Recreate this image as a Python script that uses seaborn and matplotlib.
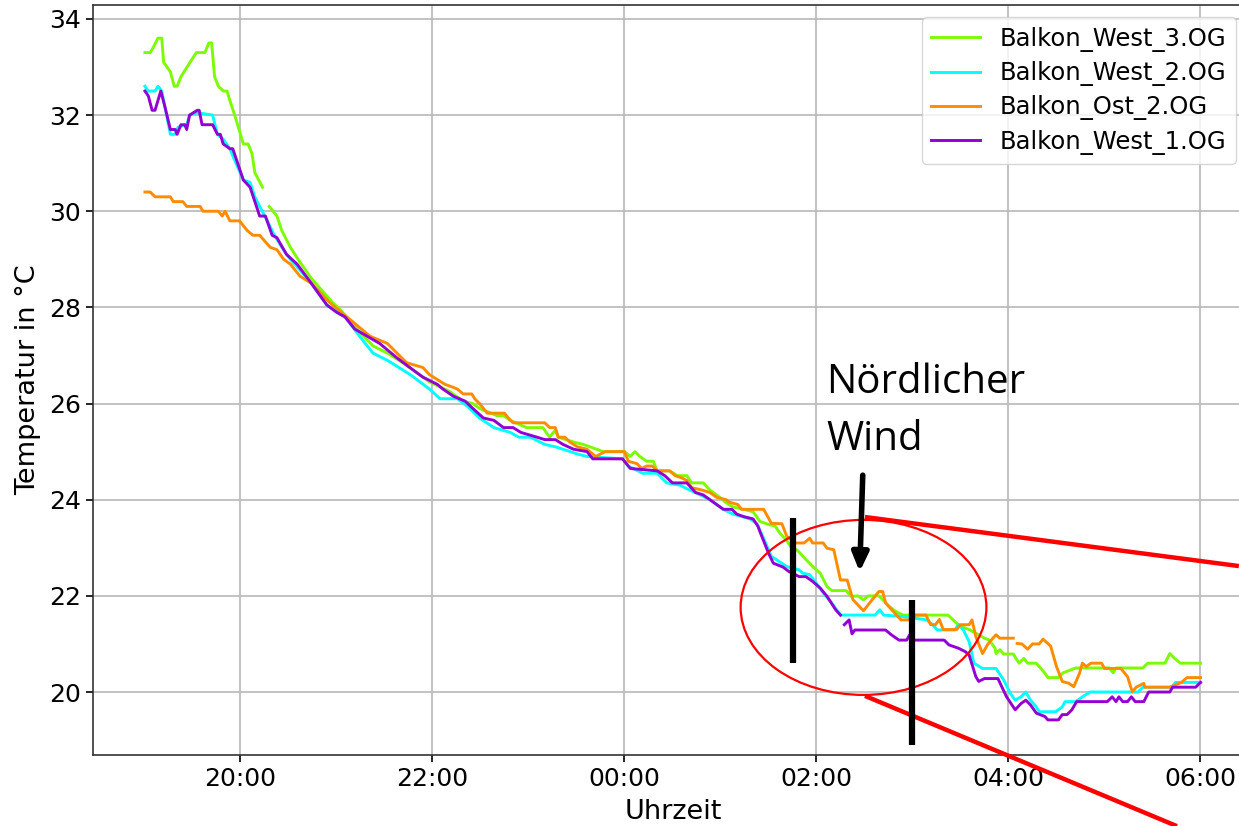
import numpy as np
import pandas as pd
import matplotlib
matplotlib.use("Agg")
import matplotlib.pyplot as plt
import matplotlib.dates as mdates
from matplotlib.patches import Ellipse
import seaborn as sns

# ---------------- data (hours after midnight of the evening; >24 = next morning; None = gap) -------
sensors = ["Balkon_West_3.OG", "Balkon_West_2.OG", "Balkon_Ost_2.OG", "Balkon_West_1.OG"]
colors = ["lawngreen", "cyan", "darkorange", "darkviolet"]

t_west3 = [19.005, 19.06, 19.09, 19.14, 19.18, 19.20, 19.27, 19.31, 19.34, 19.38,
           19.54, 19.63, 19.67, 19.70, 19.73, 19.77, 19.82, 19.86, 19.89, 19.94,
           20.03, 20.08, 20.12, 20.15, 20.23, None,
           20.30, 20.38, 20.43, 20.52, 20.60, 20.74, 20.85, 20.96, 21.04, 21.19,
           21.38, 21.53, 21.69, 21.97, 22.18, 22.32, 22.42, 22.49, 22.67, 22.74,
           22.81, 22.98, 23.15, 23.22, 23.28, 23.31, 23.47, 23.57, 23.71, 23.78,
           24.00, 24.06, 24.11, 24.16, 24.23, 24.30, 24.34, 24.47, 24.55, 24.65,
           24.70, 24.82, 24.89, 24.96, 25.05, 25.13, 25.24, 25.34, 25.41, 25.48,
           25.57, 25.62, 25.69, 25.74, 25.80, 25.86, 25.96, 26.04, 26.11, 26.16,
           26.31, 26.36, 26.43, 26.49, 26.54, 26.65, 26.76, 26.83, 26.90, 27.37,
           27.44, 27.48, 27.55, 27.60, 27.69, 27.75, 27.80, 27.86, 27.87, 27.91,
           27.95, 28.05, 28.11, 28.16, 28.20, 28.29, 28.38, 28.41, 28.52, 28.57,
           28.70, 29.05, 29.09, 29.12, 29.40, 29.45, 29.63, 29.68, 29.73, 29.79,
           30.00]
v_west3 = [33.3, 33.3, 33.4, 33.6, 33.6, 33.1, 32.9, 32.6, 32.6, 32.8,
           33.3, 33.3, 33.5, 33.5, 32.8, 32.6, 32.5, 32.5, 32.3, 32.0,
           31.4, 31.4, 31.2, 30.8, 30.5, None,
           30.1, 29.9, 29.6, 29.25, 29.0, 28.6, 28.35, 28.1, 27.95, 27.6,
           27.2, 27.05, 26.85, 26.45, 26.25, 26.05, 26.0, 25.9, 25.75, 25.75,
           25.65, 25.5, 25.5, 25.3, 25.45, 25.3, 25.2, 25.15, 25.05, 25.0,
           25.0, 24.9, 25.0, 24.9, 24.8, 24.8, 24.6, 24.6, 24.5, 24.5,
           24.35, 24.35, 24.2, 24.1, 23.95, 23.85, 23.8, 23.75, 23.55, 23.5,
           23.45, 23.3, 23.15, 23.0, 22.95, 22.82, 22.61, 22.47, 22.19, 22.11,
           22.11, 21.99, 22.0, 21.92, 22.0, 22.0, 21.78, 21.67, 21.6, 21.6,
           21.47, 21.4, 21.33, 21.29, 21.19, 21.12, 21.08, 20.91, 20.8, 20.88,
           20.79, 20.79, 20.6, 20.7, 20.6, 20.6, 20.39, 20.3, 20.3, 20.4,
           20.5, 20.5, 20.4, 20.5, 20.5, 20.6, 20.6, 20.8, 20.7, 20.6,
           20.6]

t_west2 = [19.005, 19.04, 19.11, 19.14, 19.18, 19.27, 19.32, 19.35, 19.44, 19.47,
           19.55, 19.71, 19.76, 19.82, 19.89, 19.92, 20.03, 20.10, 20.15, 20.20,
           20.28, 20.34, 20.43, 20.52, 20.72, 20.90, 21.09, 21.28, 21.38, 21.53,
           21.77, 21.97, 22.08, 22.26, 22.36, 22.49, 22.64, 22.81, 22.90, 23.02,
           23.12, 23.17, 23.28, 23.36, 23.51, 23.61, 23.98, 24.04, 24.19, 24.34,
           24.44, 24.58, 24.68, 24.79, 24.89, 25.03, 25.13, 25.31, 25.38, 25.44,
           25.53, 25.69, 25.82, 25.86, 25.93, 26.00, 26.07, 26.16, 26.25, 26.61,
           26.66, 26.70, 26.90, 27.15, 27.21, 27.26, 27.44, 27.48, 27.53, 27.59,
           27.64, 27.73, 27.87, 27.95, 28.02, 28.07, 28.13, 28.18, 28.23, 28.29,
           28.32, 28.49, 28.56, 28.59, 28.70, 28.77, 28.85, 29.35, 29.40, 29.70,
           29.74, 30.00]
v_west2 = [32.6, 32.5, 32.5, 32.6, 32.5, 31.6, 31.6, 31.75, 31.8, 32.0,
           32.05, 32.0, 31.6, 31.5, 31.3, 31.15, 30.65, 30.6, 30.3, 30.1,
           29.8, 29.55, 29.25, 29.0, 28.55, 28.05, 27.8, 27.3, 27.05, 26.9,
           26.6, 26.3, 26.1, 26.1, 25.95, 25.7, 25.5, 25.4, 25.3, 25.3,
           25.2, 25.15, 25.1, 25.05, 24.95, 24.9, 24.85, 24.7, 24.55, 24.55,
           24.35, 24.3, 24.2, 24.1, 24.0, 23.8, 23.7, 23.6, 23.5, 23.24,
           22.82, 22.61, 22.54, 22.47, 22.44, 22.26, 22.06, 21.85, 21.6, 21.6,
           21.71, 21.6, 21.57, 21.5, 21.4, 21.29, 21.29, 21.4, 21.29, 21.05,
           20.6, 20.49, 20.49, 20.25, 19.97, 19.83, 19.9, 20.0, 19.83, 19.69,
           19.59, 19.59, 19.69, 19.8, 19.8, 19.9, 20.0, 20.0, 20.1, 20.1,
           20.2, 20.2]

t_ost2 = [19.005, 19.06, 19.11, 19.27, 19.30, 19.40, 19.44, 19.58, 19.61, 19.77,
          19.81, 19.84, 19.89, 19.99, 20.07, 20.13, 20.20, 20.31, 20.38, 20.45,
          20.52, 20.62, 20.74, 20.93, 21.14, 21.35, 21.53, 21.73, 21.90, 21.97,
          22.05, 22.13, 22.20, 22.26, 22.32, 22.41, 22.44, 22.49, 22.57, 22.75,
          22.79, 22.84, 23.17, 23.22, 23.28, 23.31, 23.38, 23.43, 23.51, 23.61,
          23.70, 23.75, 23.80, 24.00, 24.04, 24.13, 24.18, 24.23, 24.29, 24.34,
          24.47, 24.53, 24.60, 24.65, 24.70, 24.81, 24.89, 24.96, 25.06, 25.09,
          25.18, 25.22, 25.45, 25.53, 25.64, 25.69, 25.78, 25.87, 25.93, 25.96,
          26.07, 26.11, 26.18, 26.25, 26.32, 26.38, 26.49, 26.58, 26.65, 26.69,
          26.72, 26.78, 26.88, 26.99, 27.03, 27.14, 27.19, 27.24, 27.28, 27.32,
          27.46, 27.50, 27.59, 27.62, 27.66, 27.73, 27.78, 27.82, 27.87, 27.91,
          28.05, None,
          28.09, 28.14, 28.20, 28.25, 28.32, 28.36, 28.41, 28.44, 28.50, 28.56,
          28.63, 28.68, 28.74, 28.77, 28.81, 28.86, 28.97, 29.00, 29.17, 29.24,
          29.29, 29.33, 29.41, 29.42, 29.68, 29.80, 29.86, 30.00]
v_ost2 = [30.4, 30.4, 30.3, 30.3, 30.2, 30.2, 30.1, 30.1, 30.0, 30.0,
          29.9, 30.0, 29.8, 29.8, 29.6, 29.5, 29.5, 29.25, 29.2, 29.0,
          28.9, 28.65, 28.5, 28.1, 27.75, 27.4, 27.25, 26.85, 26.75, 26.6,
          26.5, 26.4, 26.35, 26.3, 26.2, 26.2, 26.1, 26.0, 25.8, 25.8,
          25.7, 25.6, 25.6, 25.5, 25.5, 25.3, 25.3, 25.2, 25.1, 25.05,
          24.9, 24.95, 25.0, 25.0, 24.8, 24.75, 24.65, 24.7, 24.7, 24.6,
          24.6, 24.5, 24.45, 24.4, 24.25, 24.2, 24.15, 24.05, 24.0, 23.95,
          23.9, 23.8, 23.8, 23.51, 23.5, 23.24, 23.1, 23.1, 23.2, 23.1,
          23.1, 22.99, 22.96, 22.33, 22.33, 21.92, 21.69, 21.92, 22.09, 22.09,
          21.85, 21.72, 21.5, 21.5, 21.6, 21.6, 21.4, 21.4, 21.51, 21.3,
          21.3, 21.4, 21.4, 21.5, 21.15, 20.8, 20.98, 21.08, 21.19, 21.12,
          21.12, None,
          21.01, 21.0, 20.89, 21.0, 21.0, 21.1, 21.01, 20.95, 20.53, 20.22,
          20.18, 20.11, 20.39, 20.6, 20.53, 20.6, 20.6, 20.49, 20.49, 20.32,
          20.0, 20.1, 20.18, 20.1, 20.1, 20.2, 20.3, 20.3]

t_west1 = [19.005, 19.04, 19.08, 19.11, 19.17, 19.21, 19.27, 19.32, 19.34, 19.38,
           19.42, 19.44, 19.47, 19.55, 19.57, 19.60, 19.71, 19.76, 19.79, 19.82,
           19.89, 19.92, 20.03, 20.10, 20.20, 20.26, 20.33, 20.38, 20.48, 20.59,
           20.72, 20.90, 21.00, 21.09, 21.19, 21.32, 21.45, 21.63, 21.73, 21.90,
           22.05, 22.11, 22.22, 22.34, 22.42, 22.53, 22.64, 22.74, 22.84, 22.92,
           23.09, 23.17, 23.28, 23.36, 23.47, 23.61, 23.67, 23.98, 24.06, 24.34,
           24.42, 24.50, 24.65, 24.74, 24.82, 24.89, 24.96, 25.03, 25.12, 25.17,
           25.24, 25.34, 25.39, 25.41, 25.50, 25.55, 25.65, 25.71, 25.82, 25.89,
           25.96, 26.04, 26.11, 26.20, 26.25, None,
           26.29, 26.34, 26.37, 26.40, 26.72, 26.78, 26.86, 26.94, 26.97, 27.02,
           27.33, 27.38, 27.48, 27.55, 27.59, 27.66, 27.69, 27.75, 27.89, 27.98,
           28.07, 28.13, 28.18, 28.23, 28.29, 28.38, 28.41, 28.52, 28.56, 28.61,
           28.66, 28.71, 29.03, 29.08, 29.12, 29.15, 29.19, 29.24, 29.28, 29.32,
           29.41, 29.46, 29.68, 29.71, 29.95, 30.00]
v_west1 = [32.5, 32.4, 32.1, 32.1, 32.5, 32.2, 31.7, 31.7, 31.6, 31.8,
           31.8, 31.7, 32.0, 32.1, 32.1, 31.8, 31.8, 31.6, 31.6, 31.4,
           31.3, 31.3, 30.65, 30.5, 29.9, 29.9, 29.5, 29.45, 29.1, 28.9,
           28.55, 28.05, 27.9, 27.8, 27.55, 27.4, 27.25, 26.95, 26.8, 26.55,
           26.4, 26.3, 26.15, 26.05, 25.9, 25.7, 25.65, 25.5, 25.5, 25.4,
           25.3, 25.25, 25.25, 25.15, 25.05, 25.0, 24.85, 24.85, 24.65, 24.6,
           24.5, 24.35, 24.35, 24.15, 24.1, 24.0, 23.9, 23.8, 23.8, 23.7,
           23.65, 23.6, 23.45, 23.34, 22.89, 22.68, 22.6, 22.51, 22.4, 22.4,
           22.3, 22.16, 21.99, 21.71, 21.6, None,
           21.4, 21.5, 21.21, 21.29, 21.29, 21.19, 21.08, 21.08, 21.19, 21.08,
           21.08, 20.98, 20.91, 20.84, 20.77, 20.32, 20.22, 20.28, 20.28, 19.9,
           19.63, 19.76, 19.83, 19.73, 19.56, 19.49, 19.42, 19.42, 19.53, 19.53,
           19.63, 19.8, 19.8, 19.9, 19.8, 19.9, 19.8, 19.8, 19.9, 19.8,
           19.8, 20.0, 20.0, 20.1, 20.1, 20.2]

series_t = [t_west3, t_west2, t_ost2, t_west1]
series_v = [v_west3, v_west2, v_ost2, v_west1]

# ---------------- tidy frame, splitting at gaps ----------------
base = pd.Timestamp("2023-07-01")
rows = []
for name, ts, vs in zip(sensors, series_t, series_v):
    assert len(ts) == len(vs), name
    seg = 0
    for t, v in zip(ts, vs):
        if t is None or v is None:
            seg += 1
            continue
        rows.append((name, seg, base + pd.Timedelta(hours=t), v))
df = pd.DataFrame(rows, columns=["sensor", "seg", "time", "temp"])


def h2d(h):
    return mdates.date2num(base + pd.Timedelta(hours=h))


# ---------------- figure ----------------
plt.rcParams["font.family"] = ["DejaVu Sans"]
plt.rcParams["font.size"] = 17

W, H = 1239, 826
fig = plt.figure(figsize=(W / 100, H / 100), dpi=100)
ax = fig.add_axes([93 / W, 71 / H, 1160 / W, 750 / H])

sns.lineplot(data=df, x="time", y="temp", hue="sensor", hue_order=sensors,
             palette=dict(zip(sensors, colors)), units="seg", estimator=None,
             linewidth=2.1, ax=ax)

ax.set_xlim(h2d(18.464), h2d(30.547))
ax.set_ylim(18.69, 34.29)
ax.set_yticks(np.arange(20, 35, 2))
ax.xaxis.set_major_locator(mdates.HourLocator(byhour=range(0, 24, 2)))
ax.xaxis.set_major_formatter(mdates.DateFormatter("%H:%M"))
ax.grid(True, color="#b8b8b8", linewidth=1.2)
ax.set_axisbelow(True)
for sp in ax.spines.values():
    sp.set_linewidth(1.2)
    sp.set_color("#333333")
ax.tick_params(labelsize=18, length=5, width=1.2)
ax.set_xlabel("Uhrzeit", fontsize=19.5, labelpad=6)
ax.set_ylabel("Temperatur in °C", fontsize=19.5, labelpad=6)

sns.move_legend(ax, "upper right", title=None, fontsize=17.5, frameon=True,
                bbox_to_anchor=(0.9957, 1.0), borderaxespad=0.5, labelspacing=0.38)

# ---------------- annotations ----------------
ell = Ellipse((h2d(26.49), 21.76), width=2.56 / 24, height=3.64,
              fill=False, edgecolor="red", linewidth=1.6, clip_on=False, zorder=5)
ax.add_patch(ell)
ax.plot([h2d(26.505), h2d(30.40)], [23.64, 22.62], color="red", lw=3.2,
        clip_on=False, zorder=5, solid_capstyle="butt")
ax.plot([h2d(26.505), h2d(29.755)], [19.92, 17.21], color="red", lw=3.2,
        clip_on=False, zorder=5, solid_capstyle="butt")
ax.plot([h2d(25.755), h2d(25.755)], [23.62, 20.60], color="black", lw=4.5,
        zorder=6, solid_capstyle="butt")
ax.plot([h2d(26.995), h2d(26.995)], [21.91, 18.90], color="black", lw=4.5,
        zorder=6, solid_capstyle="butt")
ax.annotate("", xy=(h2d(26.45), 22.50), xytext=(h2d(26.482), 24.51),
            arrowprops=dict(arrowstyle="-|>,head_length=0.5,head_width=0.22",
                            color="black", lw=4.0, mutation_scale=22,
                            shrinkA=0, shrinkB=0), zorder=6)
ax.text(h2d(26.10), 26.86, "Nördlicher\nWind", family=["Open Sans", "DejaVu Sans"],
        fontsize=29, ha="left", va="top", linespacing=1.55, color="black", zorder=6)

fig.savefig("out.png", dpi=100)
